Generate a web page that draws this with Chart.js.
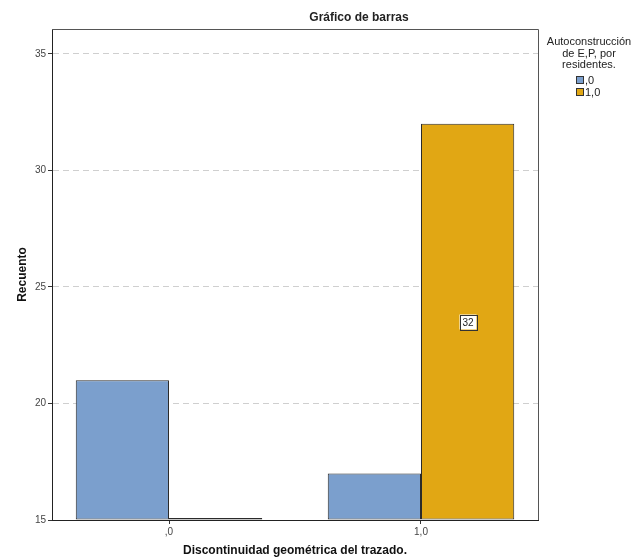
<!DOCTYPE html>
<html>
<head>
<meta charset="utf-8">
<script src="https://cdn.jsdelivr.net/npm/chart.js@4.4.0/dist/chart.umd.min.js"></script>
<style>
  html, body { margin: 0; padding: 0; background: #fff; }
</style>
</head>
<body>
<canvas id="myChart" width="639" height="558"></canvas>
<script>
var categories = [',0', '1,0'];
var catPositions = [0, 1];
var seriesNames = [',0', '1,0'];
var serie0 = [21, 17];
var serie1 = [15, 32];
var yTicks = [15, 20, 25, 30, 35];
var labelledBars = [[1, 1]]; // [dataset, index]

var chartTitle = 'Gráfico de barras';
var legendTitle = ['Autoconstrucción', 'de E,P, por', 'residentes.'];
var xTitle = 'Discontinuidad geométrica del trazado.';
var yTitle = 'Recuento';

var colors = ['#7b9fcd', '#e1a714'];
var FONT = '"Liberation Sans", Arial, sans-serif';

function toPoints(values) {
  return values.map(function (v, i) { return { x: catPositions[i], y: v }; });
}

var data = {
  datasets: [
    { label: seriesNames[0], data: toPoints(serie0), backgroundColor: colors[0] },
    { label: seriesNames[1], data: toPoints(serie1), backgroundColor: colors[1] }
  ]
};

// frame, title, legend and the boxed value label
var extras = {
  id: 'extras',
  afterDatasetsDraw: function (chart) {
    var ctx = chart.ctx;
    var a = chart.chartArea;
    ctx.save();
    ctx.strokeStyle = '#555';
    ctx.lineWidth = 1;
    ctx.beginPath();
    ctx.moveTo(a.left, Math.round(a.top) + 0.5);
    ctx.lineTo(Math.round(a.right) + 0.5, Math.round(a.top) + 0.5);
    ctx.lineTo(Math.round(a.right) + 0.5, a.bottom);
    ctx.stroke();

    ctx.font = '10px ' + FONT;
    ctx.textAlign = 'center';
    ctx.textBaseline = 'middle';
    labelledBars.forEach(function (p) {
      var el = chart.getDatasetMeta(p[0]).data[p[1]];
      var pr = el.getProps(['x', 'y', 'base'], true);
      var val = chart.data.datasets[p[0]].data[p[1]].y;
      var x = Math.round(pr.x), y = Math.round((pr.y + pr.base) / 2);
      var w = Math.round(ctx.measureText(String(val)).width + 6);
      var h = 15;
      ctx.fillStyle = '#fff';
      ctx.fillRect(x - w / 2, y - h / 2, w, h);
      ctx.strokeStyle = '#333';
      ctx.strokeRect(Math.round(x - w / 2) + 0.5, Math.round(y - h / 2) + 0.5, w, h);
      ctx.fillStyle = '#222';
      ctx.fillText(String(val), x, y + 1);
    });
    ctx.restore();
  },
  afterDraw: function (chart) {
    var ctx = chart.ctx;
    ctx.save();
    ctx.fillStyle = '#222';
    ctx.textAlign = 'center';
    ctx.textBaseline = 'middle';
    ctx.font = 'bold 12px ' + FONT;
    ctx.fillText(chartTitle, 359, 18);

    ctx.font = '11px ' + FONT;
    legendTitle.forEach(function (t, i) {
      ctx.fillText(t, 589, 42 + i * 11.5);
    });
    ctx.textAlign = 'left';
    chart.data.datasets.forEach(function (ds, i) {
      var y = 80 + i * 12;
      ctx.fillStyle = ds.backgroundColor;
      ctx.fillRect(576, y - 3, 7, 7);
      ctx.strokeStyle = '#333';
      ctx.strokeRect(576.5, y - 3.5, 7, 7);
      ctx.fillStyle = '#222';
      ctx.fillText(ds.label, 585, y + 1);
    });
    ctx.restore();
  }
};

var ctx = document.getElementById('myChart');
var myChart = new Chart(ctx, {
  type: 'bar',
  data: data,
  plugins: [extras],
  options: {
    responsive: false,
    animation: false,
    layout: { padding: { top: 29, right: 101, left: 0, bottom: 0 } },
    plugins: { legend: { display: false }, tooltip: { enabled: false } },
    datasets: {
      bar: {
        base: 15,
        borderColor: '#2b2b2b',
        borderWidth: 1,
        borderSkipped: false,
        categoryPercentage: 0.74,
        barPercentage: 1,
        minBarLength: 2
      }
    },
    scales: {
      x: {
        type: 'linear',
        offset: false,
        min: -0.4643,
        max: 1.4643,
        afterBuildTicks: function (scale) {
          scale.ticks = catPositions.map(function (v) { return { value: v }; });
        },
        afterFit: function (scale) { scale.height = 38; },
        ticks: {
          color: '#444',
          font: { size: 10, family: FONT },
          padding: 2,
          maxRotation: 0,
          callback: function (v) { return categories[catPositions.indexOf(v)]; }
        },
        grid: { offset: false, drawOnChartArea: false, drawTicks: true, tickLength: 4, tickColor: '#333' },
        border: { color: '#222', width: 1 },
        title: {
          display: true, text: xTitle, color: '#111',
          font: { size: 12, weight: 'bold', family: FONT },
          padding: { top: 0, bottom: 0 }
        }
      },
      y: {
        beginAtZero: false,
        min: 15,
        max: 36.07,
        afterBuildTicks: function (scale) {
          scale.ticks = yTicks.map(function (v) { return { value: v }; });
        },
        afterFit: function (scale) { scale.width = 52; },
        ticks: { color: '#444', font: { size: 10, family: FONT }, padding: 2 },
        grid: {
          color: function (c) { return c.tick && c.tick.value === 15 ? 'rgba(0,0,0,0)' : '#cfcfcf'; },
          tickLength: 4,
          tickColor: '#333',
          tickBorderDash: []
        },
        border: { color: '#222', width: 1, dash: [6, 4] },
        title: {
          display: true, text: yTitle, color: '#111',
          font: { size: 12, weight: 'bold', family: FONT },
          padding: { top: 15, bottom: 0 }
        }
      }
    }
  }
});
</script>
</body>
</html>
